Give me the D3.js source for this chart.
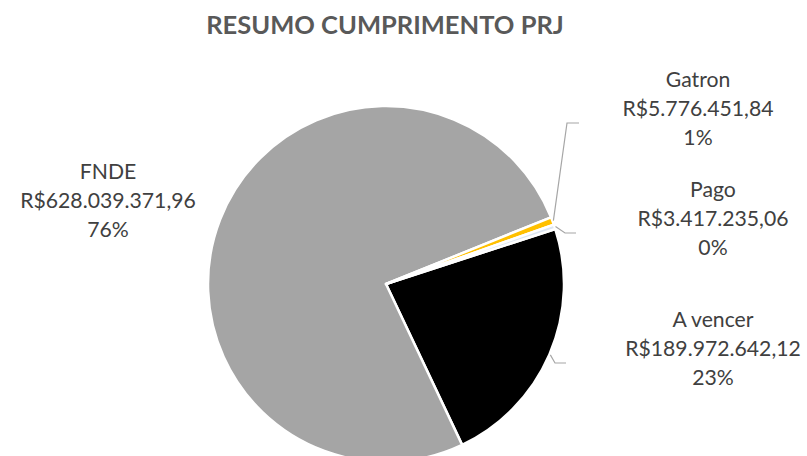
<!DOCTYPE html>
<meta charset="UTF-8">
<style>
body { margin: 0; background: #fff; }
.title { font: bold 25.5px Lato, sans-serif; fill: #595959; }
.lbl text { font: 21.2px Lato, sans-serif; fill: #404040; }
.leader { fill: none; stroke: #a6a6a6; stroke-width: 1.2px; }
</style>
<body>
<script src="https://d3js.org/d3.v7.min.js"></script>
<script>

var categories = ["A vencer", "FNDE", "Gatron", "Pago"];
var values = [189972642.12, 628039371.96, 5776451.84, 3417235.06];
var colors = ["#000000", "#a5a5a5", "#ffc000", "#dce6f2"];

// label placement (centre x, first baseline) and leader elbow/end
var labelPos = [
  {x: 713, y: 327, ex: 555, ey: 363, hx: 566},
  {x: 108, y: 179},
  {x: 698, y: 87, ex: 567, ey: 123, hx: 579},
  {x: 713, y: 197, ex: 565, ey: 233, hx: 576}
];

var width = 807, height = 456,
    cx = 386, cy = 284, radius = 178;

var svg = d3.select("body").append("svg")
    .attr("width", width)
    .attr("height", height);

svg.append("text")
    .attr("class", "title")
    .attr("x", 385)
    .attr("y", 34)
    .attr("text-anchor", "middle")
    .text("RESUMO CUMPRIMENTO PRJ");

var start = 72 * Math.PI / 180;
var pie = d3.pie().sort(null)
    .startAngle(start)
    .endAngle(start + 2 * Math.PI);

var arcs = pie(values);
var arc = d3.arc().innerRadius(0).outerRadius(radius);
var total = d3.sum(values);

var g = svg.append("g").attr("transform", "translate(" + cx + "," + cy + ")");

g.selectAll("path.slice")
    .data(arcs)
  .enter().append("path")
    .attr("class", "slice")
    .attr("d", arc)
    .style("fill", function(d, i) { return colors[i]; })
    .style("stroke", "#fff")
    .style("stroke-width", 2.5)
    .style("stroke-linejoin", "round");

var fmt = d3.formatLocale({decimal: ",", thousands: ".", grouping: [3], currency: ["R$", ""]});
var money = fmt.format("$,.2f");

// leader lines
arcs.forEach(function(d, i) {
  var p = labelPos[i];
  if (p.ex === undefined) return;
  var a = (d.startAngle + d.endAngle) / 2;
  var sx = cx + Math.sin(a) * (radius + 1),
      sy = cy - Math.cos(a) * (radius + 1);
  svg.append("path")
      .attr("class", "leader")
      .attr("d", "M" + sx + "," + sy + "L" + p.ex + "," + p.ey + "L" + p.hx + "," + p.ey);
});

var lbl = svg.selectAll("g.lbl")
    .data(arcs)
  .enter().append("g")
    .attr("class", "lbl");

lbl.each(function(d, i) {
  var p = labelPos[i];
  var lines = [categories[i], money(values[i]), Math.round(values[i] / total * 100) + "%"];
  d3.select(this).selectAll("text")
      .data(lines)
    .enter().append("text")
      .attr("x", p.x)
      .attr("y", function(t, k) { return p.y + k * 29; })
      .attr("text-anchor", "middle")
      .text(function(t) { return t; });
});

</script>
</body>
